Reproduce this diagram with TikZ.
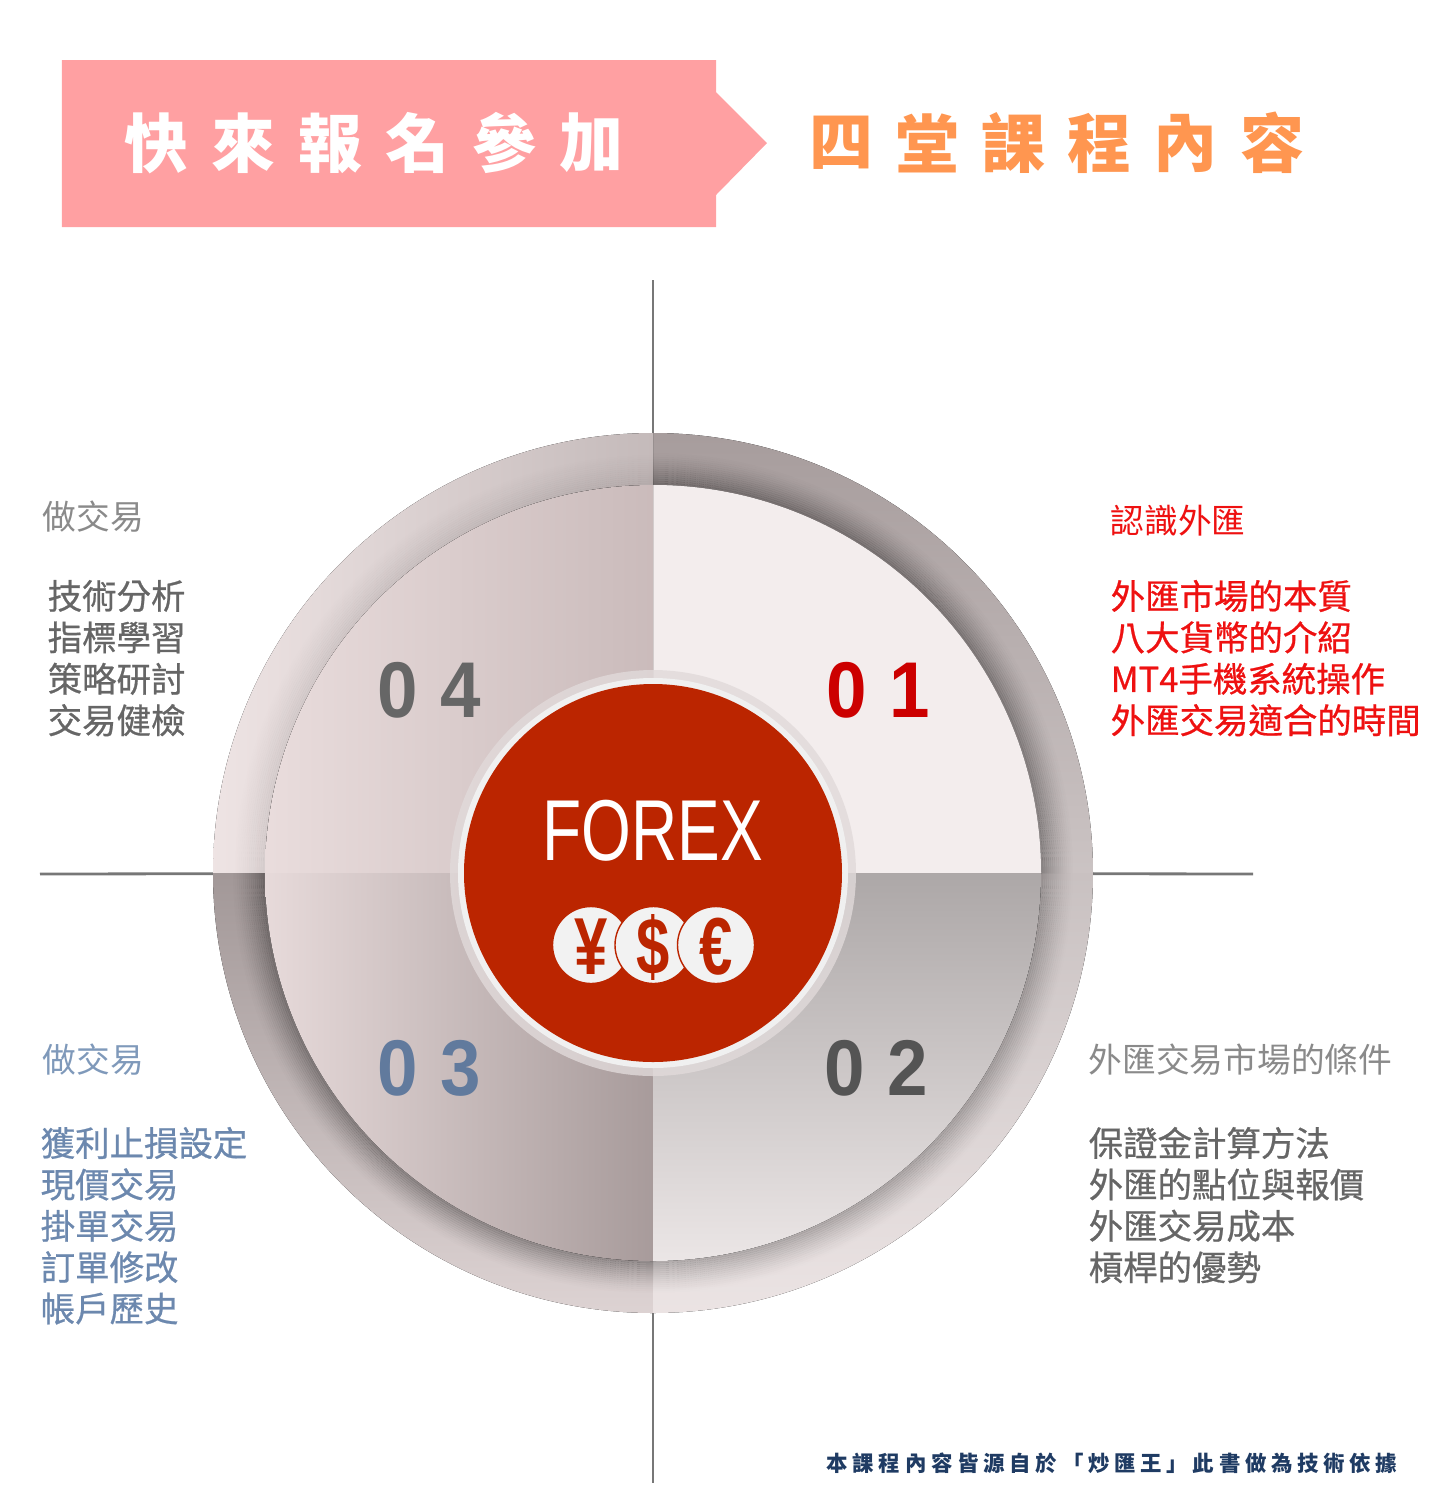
\documentclass[tikz,border=0pt]{standalone}
\usepackage{fontspec}
\setmainfont{Liberation Sans}
\newfontfamily\cjk{Noto Sans CJK TC}
\newfontfamily\cjkmed[FakeBold=0.7]{Noto Sans CJK TC}
\newfontfamily\cjkspaced[LetterSpace=22]{Noto Sans CJK TC}
\newfontfamily\narrow[FakeStretch=0.74]{Liberation Sans}
\newfontfamily\numfont[FakeStretch=0.92,LetterSpace=28]{Liberation Sans}

\definecolor{banner}{HTML}{FFA0A2}
\definecolor{orangetxt}{HTML}{FF9650}
\definecolor{axisgray}{HTML}{777777}
\definecolor{forexred}{HTML}{BB2500}
\definecolor{footblue}{HTML}{1F3B63}
\definecolor{graytxt}{HTML}{8A8A8A}
\definecolor{darktxt}{HTML}{666666}
\definecolor{redtxt}{HTML}{EE1111}
\definecolor{bluehead}{HTML}{7F99BA}
\definecolor{bluetxt}{HTML}{6C88AE}

\begin{document}
\begin{tikzpicture}[
axis/.style={
	draw=axisgray,
	line width=0.8pt
},
title/.style={
	font=\cjk\bfseries\fontsize{18.2}{20}\selectfont,
	inner sep=0pt
},
head/.style={
	font=\cjk\fontsize{9.6}{11}\selectfont,
	anchor=west,
	inner sep=0pt
},
item/.style={
	font=\cjkmed\fontsize{9.8}{11.8}\selectfont,
	anchor=west,
	inner sep=0pt
},
num/.style={
	font=\numfont\bfseries\fontsize{22.5}{24}\selectfont,
	anchor=west,
	inner sep=0pt
},
coin/.style={
	circle,
	fill=white!95!black,
	draw=forexred,
	line width=0.4pt,
	minimum size=0.77cm,
	inner sep=0pt
},
coinsym/.style={
	font=\narrow\bfseries\fontsize{23}{24}\selectfont,
	text=forexred,
	inner sep=0pt
},
ringA/.style={top color=black!36!white!96!red, bottom color=black!21!white!97!red},
ringB/.style={left color=black!7!white!96!red, right color=black!24!white!96!red},
ringC/.style={top color=black!38!white!96!red, bottom color=black!14!white!96!red},
ringD/.style={top color=black!22!white!97!red, bottom color=black!8!white!97!red},
panA/.style={fill=black!5!white!98!red},
panB/.style={left color=black!9!white!95!red, right color=black!22!white!94!red},
panC/.style={left color=black!10!white!95!red, right color=black!36!white!95!red},
panD/.style={top color=black!33!white!98!red, bottom color=black!8!white!98!red}
]
\useasboundingbox (0,0) rectangle (14.40,-15.06);

% header banner
\fill[banner] (0.62,-0.60) -- (7.16,-0.60) -- (7.16,-0.92) -- (7.67,-1.43)
  -- (7.16,-1.95) -- (7.16,-2.27) -- (0.62,-2.27) -- cycle;
\foreach \c [count=\i] in {快,來,報,名,參,加}
\node[title,text=white] (t\i) at ({1.56+0.87*(\i-1)},-1.43) {\c};
\foreach \c [count=\i] in {四,堂,課,程,內,容}
\node[title,text=orangetxt] (h\i) at ({8.41+0.862*(\i-1)},-1.43) {\c};

% axes
\coordinate (c) at (6.53,-8.73);
\coordinate (up) at (6.53,-2.80);
\coordinate (down) at (6.53,-14.83);
\coordinate (lt) at (0.40,-8.74);
\coordinate (rt) at (12.53,-8.74);
\draw[axis] (up) -- (c) -- (down);
\draw[axis] (lt) -- (c) -- (rt);

% ring
\foreach \a/\s in {0/ringA,90/ringB,180/ringC,270/ringD}
\fill[\s] ([shift={(\a:4.40)}]c) arc[start angle=\a,delta angle=90,radius=4.40]
  -- ([shift={(\a+90:3.88)}]c) arc[start angle=\a+90,delta angle=-90,radius=3.88] -- cycle;
\foreach \a/\k in {0/1,90/.25,180/1,270/.75}
\foreach \i in {0,...,15}
{
\pgfmathsetmacro\r{3.89+0.02*\i}
\pgfmathsetmacro\op{\k*0.3*(1-\i/16)^1.4}
\draw[black,opacity=\op,line width=.21mm] ([shift={(\a:\r)}]c) arc[start angle=\a,delta angle=90,radius=\r];
}

% panels
\foreach \a/\s in {0/panA,90/panB,180/panC,270/panD}
\fill[\s] (c) -- ([shift={(\a:3.88)}]c) arc[start angle=\a,delta angle=90,radius=3.88] -- cycle;

% centre
\fill[black!12!white!97!red,opacity=.8] (c) circle[radius=2.03];
\fill[black!6!white] (c) circle[radius=1.95];
\node[circle,fill=forexred,minimum size=3.78cm,inner sep=0pt] (disk) at (c) {};
\node[font=\narrow\fontsize{24.6}{26}\selectfont,text=white,inner sep=0pt] (forex) at (6.53,-8.31) {FOREX};
\foreach \x/\s/\n in {5.91/¥/yen,6.535/\$/usd,7.16/€/eur}
{
\node[coin] (\n) at (\x,-9.45) {};
\node[coinsym] (\n s) at (\x,-9.47) {\s};
}

% numbers
\node[num,text=darktxt] (n4) at (3.77,-6.90) {04};
\node[num,text=red!80!black] (n1) at (8.26,-6.90) {01};
\node[num,text=bluetxt!90!black] (n3) at (3.77,-10.68) {03};
\node[num,text=black!67!white] (n2) at (8.24,-10.68) {02};

% texts
\node[head,text=graytxt] (tlh) at (0.42,-5.17) {做交易};
\foreach \l [count=\i] in {技術分析,指標學習,策略研討,交易健檢}
\node[item,text=darktxt] (tl\i) at (0.47,{-5.96-0.414*(\i-1)}) {\l};

\node[head,text=redtxt] (trh) at (11.10,-5.21) {認識外匯};
\foreach \l [count=\i] in {外匯市場的本質,八大貨幣的介紹,MT4手機系統操作,外匯交易適合的時間}
\node[item,text=redtxt] (tr\i) at (11.10,{-5.96-0.414*(\i-1)}) {\l};

\node[head,text=graytxt] (brh) at (10.88,-10.60) {外匯交易市場的條件};
\foreach \l [count=\i] in {保證金計算方法,外匯的點位與報價,外匯交易成本,槓桿的優勢}
\node[item,text=darktxt] (br\i) at (10.88,{-11.43-0.414*(\i-1)}) {\l};

\node[head,text=bluehead] (blh) at (0.42,-10.60) {做交易};
\foreach \l [count=\i] in {獲利止損設定,現價交易,掛單交易,訂單修改,帳戶歷史}
\node[item,text=bluetxt] (bl\i) at (0.40,{-11.43-0.414*(\i-1)}) {\l};

% footer
\node[font=\cjkspaced\bfseries\fontsize{6.1}{7}\selectfont,text=footblue,anchor=west,inner sep=0pt]
  (foot) at (8.26,-14.63) {本課程內容皆源自於「炒匯王」此書做為技術依據};

\end{tikzpicture}
\end{document}
